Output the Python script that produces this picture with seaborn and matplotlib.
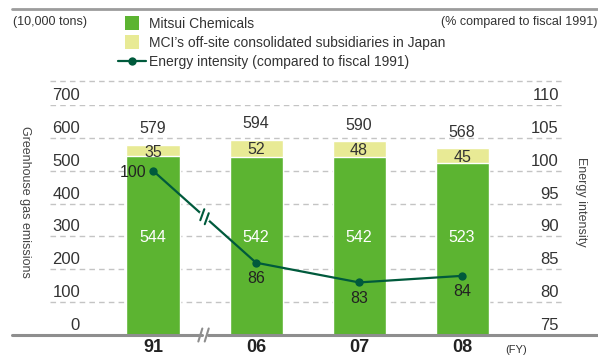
import numpy as np
import pandas as pd
import matplotlib
matplotlib.use("Agg")
import matplotlib.pyplot as plt
import seaborn as sns
from matplotlib.lines import Line2D
from matplotlib.transforms import blended_transform_factory, offset_copy

# Data
years = ["91", "06", "07", "08"]
mitsui = [544, 542, 542, 523]
subsidiaries = [35, 52, 48, 45]
totals = [579, 594, 590, 568]
energy = [100, 86, 83, 84]
ghg_ticks = [0, 100, 200, 300, 400, 500, 600, 700]
energy_ticks = [75, 80, 85, 90, 95, 100, 105, 110]

GREEN = "#5cb431"
YELLOW = "#e8ea95"
LINE = "#005a3c"
TEXT = "#333333"
GRID = "#c4c4c4"
RULE = "#8e8e8e"

sns.set_theme(style="white")
plt.rcParams["font.family"] = ["Liberation Sans", "DejaVu Sans"]

W, H = 598, 356
fig = plt.figure(figsize=(W / 100, H / 100), dpi=100)


def fx(px):
    return px / W


def fy(py):
    return 1 - py / H


def to_fig(disp):
    """Display pixels (origin bottom-left) -> figure fraction."""
    return fig.transFigure.inverted().transform(disp)


ax = fig.add_axes([fx(50), fy(335), 512 / W, 230 / H])

df = pd.DataFrame({
    "year": years,
    "mitsui": mitsui,
    "total": np.array(mitsui) + np.array(subsidiaries),
})

# Stacked bars: full height in yellow, Mitsui share in green on top of it
sns.barplot(data=df, x="year", y="total", color=YELLOW, width=0.515,
            saturation=1, ax=ax, zorder=2)
sns.barplot(data=df, x="year", y="mitsui", color=GREEN, width=0.515,
            saturation=1, ax=ax, zorder=3)

ax.set_xlim(-1.0, 3.97)
ax.set_ylim(0, 700)
ax.set_yticks(ghg_ticks)
ax.set_yticklabels([])
ax.grid(axis="y", linestyle=(0, (4, 3)), color=GRID, linewidth=1)
ax.grid(axis="x", visible=False)
ax.set_axisbelow(True)
ax.set_xlabel("")
ax.set_ylabel("")
ax.set_xticks(range(len(years)))
ax.set_xticklabels(years, fontsize=13, fontweight="bold", color="#222222")
ax.tick_params(axis="x", length=0, pad=3)
ax.tick_params(axis="y", length=0)
for s in ax.spines.values():
    s.set_visible(False)

# Left tick labels sit just above their gridlines
ltrans = offset_copy(blended_transform_factory(ax.transAxes, ax.transData),
                     fig=fig, x=0, y=5, units="dots")
for v in ghg_ticks:
    ax.text(0.0586, v, str(v), transform=ltrans, ha="right", va="baseline",
            fontsize=12, color=TEXT)

# Bar value labels
for i, (m, s, t) in enumerate(zip(mitsui, subsidiaries, totals)):
    ax.annotate(str(t), (i, m + s), xytext=(0, 6), textcoords="offset points",
                ha="center", va="bottom", fontsize=11.5, color=TEXT, zorder=5)
    ax.text(i, m + s / 2, str(s), ha="center", va="center_baseline",
            fontsize=11.5, color=TEXT, zorder=5)
    ax.text(i, 300, str(m), ha="center", va="center_baseline",
            fontsize=11.5, color="white", zorder=5)

# Energy intensity on the secondary axis
ax2 = ax.twinx()
ax2.set_ylim(75, 110)
sns.lineplot(x=np.arange(len(years)), y=energy, ax=ax2, color=LINE,
             linewidth=1.6, marker="o", markersize=6, markeredgewidth=0,
             zorder=6)
ax2.set_yticks(energy_ticks)
ax2.set_yticklabels([])
ax2.tick_params(axis="y", length=0)
ax2.grid(False)
for s in ax2.spines.values():
    s.set_visible(False)

rtrans = offset_copy(blended_transform_factory(ax2.transAxes, ax2.transData),
                     fig=fig, x=0, y=5, units="dots")
for v in energy_ticks:
    ax2.text(0.994, v, str(v), transform=rtrans, ha="right", va="baseline",
             fontsize=12, color=TEXT)

for i, e in enumerate(energy):
    if i == 0:
        ax2.annotate(str(e), (i, e), xytext=(-5, 0), textcoords="offset points",
                     ha="right", va="center_baseline", fontsize=11.5,
                     color="#222222", zorder=7)
    else:
        ax2.annotate(str(e), (i, e), xytext=(0, -6), textcoords="offset points",
                     ha="center", va="top", fontsize=11.5,
                     color="#222222", zorder=7)

# Break marks between 1991 and 2006 (on the line and on the baseline)
brk_x = 0.5
brk_y = energy[0] + (energy[1] - energy[0]) * brk_x
p0 = ax2.transData.transform((0, energy[0]))
p1 = ax2.transData.transform((1, energy[1]))
pc = ax2.transData.transform((brk_x, brk_y))
d = (p1 - p0) / np.linalg.norm(p1 - p0)
slash = np.array([4.0, 11.0]) / 2
gap = 3.0
a, b = to_fig(pc - d * 4.5), to_fig(pc + d * 4.5)
fig.add_artist(Line2D([a[0], b[0]], [a[1], b[1]], color="white",
                      linewidth=2.6, zorder=20))
for sgn in (-1, 1):
    c = pc + d * gap * sgn
    u, v = to_fig(c - slash), to_fig(c + slash)
    fig.add_artist(Line2D([u[0], v[0]], [u[1], v[1]], color=LINE,
                          linewidth=1.5, zorder=21))

bx = ax.transData.transform((brk_x, 0))[0]
by = H - 335
fig.add_artist(Line2D([fx(12), fx(bx - 3)], [fy(335), fy(335)], color=RULE,
                      linewidth=2.2, zorder=4))
fig.add_artist(Line2D([fx(bx + 3), fx(598)], [fy(335), fy(335)], color=RULE,
                      linewidth=2.2, zorder=4))
slash_ax = np.array([4.0, 13.0]) / 2
for sgn in (-1, 1):
    c = np.array([bx - 1 + sgn * 3.2, by])
    u, v = to_fig(c - slash_ax), to_fig(c + slash_ax)
    fig.add_artist(Line2D([u[0], v[0]], [u[1], v[1]], color=RULE,
                          linewidth=1.5, zorder=4))

# Top rules
fig.add_artist(Line2D([fx(12), fx(598)], [fy(9), fy(9)], color="#9c9c9c",
                      linewidth=2.0))
fig.add_artist(Line2D([fx(50), fx(562)], [fy(81), fy(81)], color=GRID,
                      linewidth=1, linestyle=(0, (4, 3))))

# Axis titles and units
fig.text(fx(25), fy(202), "Greenhouse gas emissions", rotation=270,
         ha="center", va="center", fontsize=9, color="#444444")
fig.text(fx(581), fy(202), "Energy intensity", rotation=270,
         ha="center", va="center", fontsize=9, color="#444444")
fig.text(fx(13), fy(22), "(10,000 tons)", ha="left", va="center",
         fontsize=9, color=TEXT)
fig.text(fx(597), fy(22), "(% compared to fiscal 1991)", ha="right",
         va="center", fontsize=9, color=TEXT)
fig.text(fx(505), fy(350), "(FY)", ha="left", va="center", fontsize=8,
         color=TEXT)

# Legend
handles = [
    Line2D([], [], marker="s", linestyle="", markersize=9.5,
           markerfacecolor=GREEN, markeredgewidth=0),
    Line2D([], [], marker="s", linestyle="", markersize=9.5,
           markerfacecolor=YELLOW, markeredgewidth=0),
    Line2D([], [], marker="o", color=LINE, linewidth=1.6, markersize=6,
           markeredgewidth=0),
]
labels = [
    "Mitsui Chemicals",
    "MCI’s off-site consolidated subsidiaries in Japan",
    "Energy intensity (compared to fiscal 1991)",
]
fig.legend(handles, labels, loc="upper left",
           bbox_to_anchor=(fx(118), fy(17)), frameon=False, fontsize=10,
           handlelength=2.0, handletextpad=0.25, labelspacing=0.36,
           borderpad=0, borderaxespad=0, labelcolor=TEXT)

fig.savefig("out.png", dpi=100)
